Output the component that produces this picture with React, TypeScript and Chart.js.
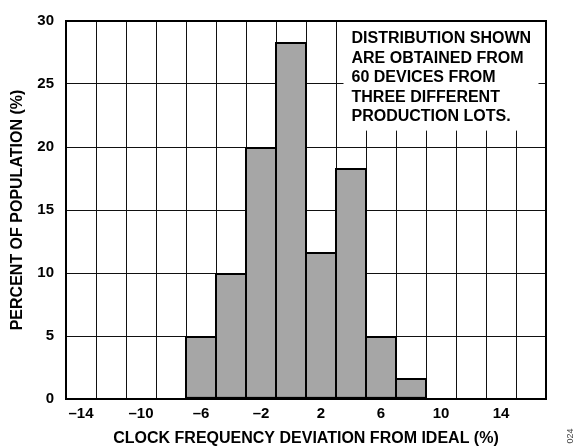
import React, { useEffect, useRef } from "react";
import { Chart, registerables } from "chart.js";

Chart.register(...registerables);

// ---- data ----
const binCenters = [-6, -4, -2, 0, 2, 4, 6, 8];
const percentValues = [5, 10, 20, 28.33, 11.67, 18.33, 5, 1.67];
const gridTicks = [-15, -13, -11, -9, -7, -5, -3, -1, 1, 3, 5, 7, 9, 11, 13, 15, 17];
const labelTicks = [-14, -10, -6, -2, 2, 6, 10, 14];
const yTicks = [0, 5, 10, 15, 20, 25, 30];
const noteLines = [
  "DISTRIBUTION SHOWN",
  "ARE OBTAINED FROM",
  "60 DEVICES FROM",
  "THREE DIFFERENT",
  "PRODUCTION LOTS.",
];
const xTitle = "CLOCK FREQUENCY DEVIATION FROM IDEAL (%)";
const yTitle = "PERCENT OF POPULATION (%)";
const figId = "024";

const FONT = '"Liberation Sans", Arial, Helvetica, sans-serif';

const overlayPlugin = {
  id: "overlay",
  afterDatasetsDraw(chart: any) {
    const { ctx, chartArea, scales } = chart;
    const xs = scales.x;
    const ys = scales.y;
    const l = xs.getPixelForValue(3.5);
    const r = xs.getPixelForValue(16.5);
    const t = chartArea.top;
    const b = ys.getPixelForValue(21.3);
    ctx.save();
    ctx.fillStyle = "#ffffff";
    ctx.fillRect(l, t + 1, r - l, b - t - 1);
    ctx.fillStyle = "#000000";
    ctx.font = `bold 16px ${FONT}`;
    ctx.textBaseline = "middle";
    ctx.textAlign = "left";
    noteLines.forEach((s, i) => {
      ctx.fillText(s, l + 8, t + 18 + i * 19.5);
    });
    // frame
    ctx.lineWidth = 2;
    ctx.strokeStyle = "#000000";
    ctx.strokeRect(chartArea.left, chartArea.top, chartArea.right - chartArea.left, chartArea.bottom - chartArea.top);
    ctx.restore();

    // figure id
    ctx.save();
    ctx.translate(571, 436);
    ctx.rotate(-Math.PI / 2);
    ctx.font = `9px ${FONT}`;
    ctx.fillStyle = "#444444";
    ctx.textAlign = "center";
    ctx.textBaseline = "middle";
    ctx.fillText(figId, 0, 0);
    ctx.restore();
  },
};

export default function App() {
  const ref = useRef<HTMLCanvasElement | null>(null);

  useEffect(() => {
    if (!ref.current) return;
    const chart = new Chart(ref.current, {
      type: "bar",
      data: {
        datasets: [
          {
            data: binCenters.map((x, i) => ({ x, y: percentValues[i] })),
            backgroundColor: "#a6a6a6",
            borderColor: "#000000",
            borderWidth: 2,
            borderSkipped: false,
            barPercentage: 1.067,
            categoryPercentage: 1,
            xAxisID: "x",
            yAxisID: "y",
          } as any,
        ],
      },
      options: {
        responsive: false,
        animation: false,
        layout: { padding: { left: 0, top: 15, right: 37, bottom: 0 } },
        plugins: {
          legend: { display: false },
          tooltip: { enabled: false },
        },
        scales: {
          x: {
            type: "linear",
            position: "bottom",
            weight: 0,
            offset: false,
            min: -15,
            max: 17,
            afterBuildTicks: (s: any) => {
              s.ticks = gridTicks.map((v) => ({ value: v }));
            },
            afterFit: (s: any) => {
              s.height = 0;
            },
            ticks: { display: false },
            grid: { color: "#111111", lineWidth: 1, drawTicks: false, offset: false },
            border: { display: false },
          },
          x2: {
            type: "linear",
            position: "bottom",
            weight: 1,
            offset: false,
            min: -15,
            max: 17,
            afterBuildTicks: (s: any) => {
              s.ticks = labelTicks.map((v) => ({ value: v }));
            },
            afterFit: (s: any) => {
              s.height = 49;
            },
            ticks: {
              autoSkip: false,
              maxRotation: 0,
              padding: 6,
              color: "#000000",
              font: { family: FONT, size: 15, weight: "bold" },
              callback: (v: any) => (Number(v) < 0 ? "\u2013" + Math.abs(Number(v)) : String(v)),
            },
            grid: { display: false, drawTicks: false, offset: false },
            border: { display: false },
            title: {
              display: true,
              text: xTitle,
              color: "#000000",
              font: { family: FONT, size: 16, weight: "bold" },
              padding: { top: 0, bottom: 0 },
            },
          },
          y: {
            type: "linear",
            position: "left",
            min: 0,
            max: 30,
            afterBuildTicks: (s: any) => {
              s.ticks = yTicks.map((v) => ({ value: v }));
            },
            afterFit: (s: any) => {
              s.width = 66;
            },
            ticks: {
              padding: 12,
              color: "#000000",
              font: { family: FONT, size: 15, weight: "bold" },
            },
            grid: { color: "#111111", lineWidth: 1, drawTicks: false },
            border: { display: false },
            title: {
              display: true,
              text: yTitle,
              color: "#000000",
              font: { family: FONT, size: 16, weight: "bold" },
              padding: { top: 8, bottom: 0 },
            },
          },
        },
      } as any,
      plugins: [overlayPlugin],
    });
    return () => chart.destroy();
  }, []);

  return (
    <div style={{ position: "absolute", left: 0, top: 0, width: 583, height: 448, background: "#fff" }}>
      <canvas ref={ref} width={583} height={448} style={{ display: "block" }} />
    </div>
  );
}
